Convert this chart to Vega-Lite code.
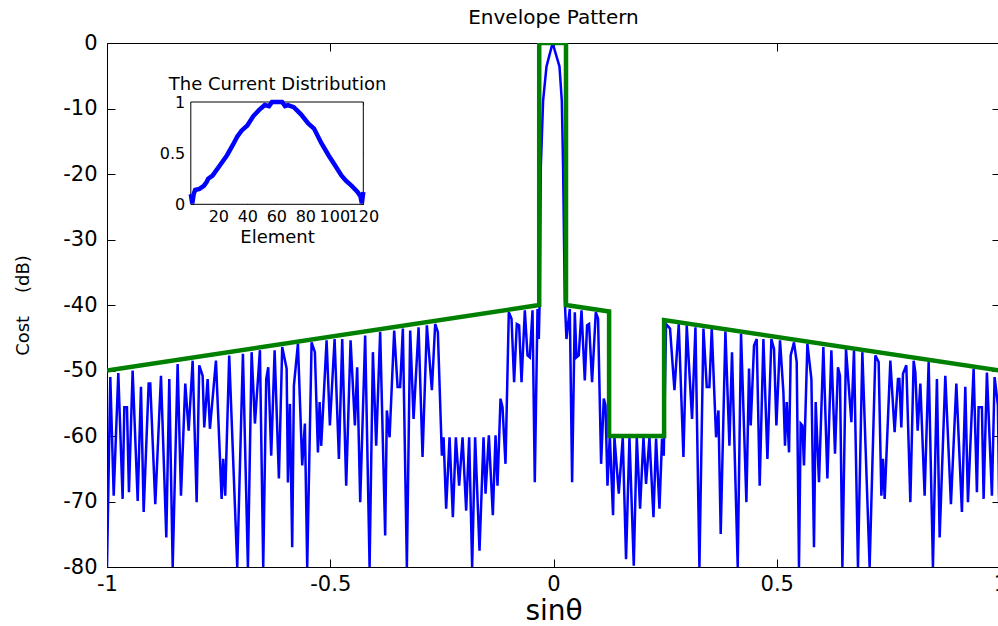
{
"$schema": "https://vega.github.io/schema/vega-lite/v6.json",
"width": 893, "height": 524,
"autosize": {"type": "none"},
"padding": {"left": 107, "top": 43, "right": 0, "bottom": 59},
"background": "white",
"title": {"text": "Envelope Pattern", "fontSize": 20, "font": "DejaVu Sans", "fontWeight": "normal", "color": "black", "offset": 4, "anchor": "middle"},
"config": {
  "view": {"stroke": "black", "strokeWidth": 1},
  "axis": {"grid": false, "domain": false, "tickColor": "black", "labelColor": "black", "titleColor": "black", "labelFont": "DejaVu Sans", "titleFont": "DejaVu Sans", "titleFontWeight": "normal", "labelOverlap": false, "labelFlush": false}
},
"datasets": {
"pattern": [
{"u":-1.0,"dB":-80},{"u":-0.9926,"dB":-51.0},{"u":-0.985,"dB":-69.1},{"u":-0.9747,"dB":-50.4},{"u":-0.965,"dB":-69.6},{"u":-0.9612,"dB":-55.6},{"u":-0.9553,"dB":-55.6},{"u":-0.9508,"dB":-68.6},{"u":-0.9426,"dB":-50.0},{"u":-0.9313,"dB":-69.9},{"u":-0.9239,"dB":-52.5},{"u":-0.9179,"dB":-71.6},{"u":-0.9067,"dB":-52.0},{"u":-0.9031,"dB":-52.0},{"u":-0.8919,"dB":-70.4},{"u":-0.8791,"dB":-50.8},{"u":-0.8672,"dB":-75.5},{"u":-0.8605,"dB":-51.3},{"u":-0.8529,"dB":-80},{"u":-0.8418,"dB":-49.0},{"u":-0.8343,"dB":-69.1},{"u":-0.8247,"dB":-52.0},{"u":-0.8171,"dB":-59.2},{"u":-0.8082,"dB":-48.5},{"u":-0.7992,"dB":-70.1},{"u":-0.7934,"dB":-49.2},{"u":-0.7858,"dB":-50.8},{"u":-0.7822,"dB":-58.7},{"u":-0.7746,"dB":-51.3},{"u":-0.7695,"dB":-58.9},{"u":-0.756,"dB":-48.5},{"u":-0.7433,"dB":-69.6},{"u":-0.7397,"dB":-63.5},{"u":-0.7352,"dB":-69.1},{"u":-0.7263,"dB":-47.7},
{"u":-0.7083,"dB":-80},{"u":-0.6956,"dB":-47.45},{"u":-0.6844,"dB":-80},{"u":-0.6761,"dB":-47.2},{"u":-0.6687,"dB":-58.1},{"u":-0.6575,"dB":-46.9},{"u":-0.6501,"dB":-80},{"u":-0.6434,"dB":-51.3},{"u":-0.6389,"dB":-49.5},{"u":-0.6322,"dB":-63.0},{"u":-0.6246,"dB":-46.9},{"u":-0.615,"dB":-66.5},{"u":-0.6076,"dB":-46.4},{"u":-0.5977,"dB":-49.7},{"u":-0.5948,"dB":-67.1},{"u":-0.5903,"dB":-55.1},{"u":-0.5852,"dB":-77.0},{"u":-0.5814,"dB":-52.3},{"u":-0.5724,"dB":-45.9},{"u":-0.5628,"dB":-64.5},{"u":-0.5568,"dB":-58.1},{"u":-0.5516,"dB":-80},{"u":-0.5418,"dB":-45.7},{"u":-0.5344,"dB":-47.2},{"u":-0.5276,"dB":-62.5},{"u":-0.5238,"dB":-54.8},{"u":-0.5203,"dB":-61.5},{"u":-0.5082,"dB":-45.4},{"u":-0.5008,"dB":-58.4},{"u":-0.4903,"dB":-45.2},{"u":-0.4806,"dB":-63.5},{"u":-0.4732,"dB":-45.2},{"u":-0.4643,"dB":-67.6},{"u":-0.4545,"dB":-45.4},{"u":-0.4448,"dB":-58.4},{"u":-0.4397,"dB":-49.5},
{"u":-0.4329,"dB":-70.1},{"u":-0.4218,"dB":-44.65},{"u":-0.4119,"dB":-80},{"u":-0.4045,"dB":-47.2},{"u":-0.3971,"dB":-61.5},{"u":-0.3882,"dB":-44.1},{"u":-0.377,"dB":-75.2},{"u":-0.3732,"dB":-56.1},{"u":-0.3671,"dB":-60.2},{"u":-0.3568,"dB":-43.9},{"u":-0.3492,"dB":-52.5},{"u":-0.3434,"dB":-52.5},{"u":-0.3374,"dB":-43.6},{"u":-0.3284,"dB":-80},{"u":-0.321,"dB":-43.9},{"u":-0.3134,"dB":-57.4},{"u":-0.3022,"dB":-43.4},{"u":-0.2933,"dB":-63.2},{"u":-0.2836,"dB":-43.1},{"u":-0.2724,"dB":-53.0},{"u":-0.265,"dB":-42.9},{"u":-0.259,"dB":-44.1},{"u":-0.25,"dB":-63.0},{"u":-0.2462,"dB":-60.2},{"u":-0.2404,"dB":-71.1},{"u":-0.2328,"dB":-60.2},{"u":-0.2254,"dB":-72.4},{"u":-0.2187,"dB":-60.2},{"u":-0.2113,"dB":-67.6},{"u":-0.2037,"dB":-60.2},{"u":-0.1956,"dB":-71.4},{"u":-0.1889,"dB":-60.2},{"u":-0.1822,"dB":-80},{"u":-0.1755,"dB":-60.2},{"u":-0.1657,"dB":-77.5},{"u":-0.1567,"dB":-60.2},
{"u":-0.1522,"dB":-68.8},{"u":-0.1448,"dB":-59.9},{"u":-0.1359,"dB":-72.1},{"u":-0.1298,"dB":-59.9},{"u":-0.1254,"dB":-67.6},{"u":-0.1187,"dB":-54.3},{"u":-0.1142,"dB":-55.6},{"u":-0.1075,"dB":-64.25},{"u":-0.1001,"dB":-41.1},{"u":-0.094,"dB":-42.1},{"u":-0.0882,"dB":-51.8},{"u":-0.0822,"dB":-42.9},{"u":-0.077,"dB":-43.1},{"u":-0.0716,"dB":-51.8},{"u":-0.0642,"dB":-40.8},{"u":-0.0582,"dB":-47.7},{"u":-0.0531,"dB":-48.0},{"u":-0.047,"dB":-40.8},{"u":-0.0419,"dB":-67.05},{"u":-0.0358,"dB":-40.6},{"u":-0.0329,"dB":-45.2},
{"u":-0.031,"dB":-39.3},{"u":-0.0284,"dB":-18.9},{"u":-0.0233,"dB":-8.8},{"u":-0.0157,"dB":-3.6},{"u":-0.002,"dB":0},{"u":0.0134,"dB":-3.6},{"u":0.0186,"dB":-8.8},{"u":0.0215,"dB":-18.9},{"u":0.0253,"dB":-39.3},
{"u":0.029,"dB":-45.2},{"u":0.0365,"dB":-40.6},{"u":0.0417,"dB":-67.05},{"u":0.0477,"dB":-41.1},{"u":0.0515,"dB":-48.0},{"u":0.0566,"dB":-47.7},{"u":0.0627,"dB":-40.8},{"u":0.0701,"dB":-51.5},{"u":0.0752,"dB":-43.1},{"u":0.0797,"dB":-42.9},{"u":0.0864,"dB":-51.8},{"u":0.0947,"dB":-41.1},{"u":0.0998,"dB":-42.1},{"u":0.1066,"dB":-64.25},{"u":0.1126,"dB":-54.3},{"u":0.1164,"dB":-55.3},{"u":0.1209,"dB":-67.6},{"u":0.1261,"dB":-59.9},{"u":0.1334,"dB":-72.1},
{"u":0.1365,"dB":-60.2},{"u":0.1462,"dB":-68.8},{"u":0.1551,"dB":-60.2},{"u":0.1625,"dB":-78.8},{"u":0.1701,"dB":-60.2},{"u":0.1798,"dB":-79.8},{"u":0.1865,"dB":-60.2},{"u":0.1939,"dB":-71.1},{"u":0.2015,"dB":-60.2},{"u":0.2073,"dB":-67.3},{"u":0.2149,"dB":-60.2},{"u":0.2239,"dB":-72.4},{"u":0.2297,"dB":-60.4},{"u":0.2373,"dB":-71.1},{"u":0.2431,"dB":-60.4},{"u":0.2469,"dB":-63.0},{"u":0.2521,"dB":-42.9},{"u":0.261,"dB":-43.6},{"u":0.2709,"dB":-53.0},{"u":0.2805,"dB":-42.9},{"u":0.291,"dB":-63.2},{"u":0.2984,"dB":-43.1},{"u":0.3103,"dB":-57.4},{"u":0.3179,"dB":-43.4},{"u":0.3268,"dB":-80},{"u":0.3358,"dB":-43.6},{"u":0.3432,"dB":-52.5},{"u":0.3492,"dB":-52.5},{"u":0.3544,"dB":-43.6},{"u":0.3641,"dB":-60.2},{"u":0.3694,"dB":-56.1},{"u":0.3745,"dB":-74.95},{"u":0.385,"dB":-44.0},{"u":0.394,"dB":-61.5},{"u":0.3998,"dB":-47.2},{"u":0.4126,"dB":-80},{"u":0.42,"dB":-44.4},
{"u":0.432,"dB":-70.1},{"u":0.4379,"dB":-49.7},{"u":0.4417,"dB":-58.4},{"u":0.4491,"dB":-46.2},{"u":0.4551,"dB":-45.2},{"u":0.4618,"dB":-67.6},{"u":0.4701,"dB":-45.2},{"u":0.4791,"dB":-63.5},{"u":0.488,"dB":-45.2},{"u":0.4939,"dB":-46.7},{"u":0.4992,"dB":-58.4},{"u":0.5073,"dB":-45.4},{"u":0.5149,"dB":-53.3},{"u":0.5185,"dB":-61.5},{"u":0.5223,"dB":-54.8},{"u":0.5275,"dB":-62.5},{"u":0.5312,"dB":-47.7},{"u":0.5386,"dB":-45.7},{"u":0.5447,"dB":-48.7},{"u":0.5498,"dB":-80},{"u":0.5536,"dB":-58.1},{"u":0.5574,"dB":-58.4},{"u":0.561,"dB":-64.5},{"u":0.5686,"dB":-45.9},{"u":0.5776,"dB":-51.3},{"u":0.5834,"dB":-77.0},{"u":0.5872,"dB":-54.8},{"u":0.5946,"dB":-67.05},{"u":0.6044,"dB":-46.4},{"u":0.6134,"dB":-66.5},{"u":0.6223,"dB":-46.9},{"u":0.6305,"dB":-62.7},{"u":0.6371,"dB":-49.5},{"u":0.6416,"dB":-50.8},{"u":0.647,"dB":-80},{"u":0.6551,"dB":-46.7},{"u":0.6671,"dB":-57.9},{"u":0.673,"dB":-46.9},{"u":0.6819,"dB":-80},{"u":0.6917,"dB":-47.2},{"u":0.708,"dB":-80},
{"u":0.7208,"dB":-47.7},{"u":0.7282,"dB":-48.7},{"u":0.7343,"dB":-69.1},{"u":0.7379,"dB":-63.5},{"u":0.7417,"dB":-69.6},{"u":0.7544,"dB":-48.5},{"u":0.764,"dB":-59.4},{"u":0.7715,"dB":-51.3},{"u":0.7746,"dB":-51.3},{"u":0.779,"dB":-58.7},{"u":0.7827,"dB":-50.5},{"u":0.7902,"dB":-49.2},{"u":0.7992,"dB":-70.1},{"u":0.8066,"dB":-48.5},{"u":0.8104,"dB":-50.3},{"u":0.8156,"dB":-59.2},{"u":0.8216,"dB":-52.0},{"u":0.8312,"dB":-69.1},{"u":0.8402,"dB":-48.7},{"u":0.8498,"dB":-80},{"u":0.8587,"dB":-51.3},{"u":0.8648,"dB":-75.5},{"u":0.8775,"dB":-50.8},{"u":0.8901,"dB":-70.4},{"u":0.9022,"dB":-52.0},{"u":0.9147,"dB":-71.6},{"u":0.9223,"dB":-52.5},{"u":0.9282,"dB":-70.1},{"u":0.9409,"dB":-49.7},{"u":0.9483,"dB":-68.6},{"u":0.9521,"dB":-55.6},{"u":0.9595,"dB":-55.6},{"u":0.9633,"dB":-69.6},{"u":0.9707,"dB":-50.3},{"u":0.9819,"dB":-69.1},{"u":0.9879,"dB":-51.0},{"u":0.9953,"dB":-55.3},{"u":1.0,"dB":-80}
],
"envelope": [
{"u":-1,"dB":-50},{"u":-0.032,"dB":-40},{"u":-0.032,"dB":0},{"u":0.028,"dB":0},{"u":0.028,"dB":-40},{"u":0.1245,"dB":-41.0},{"u":0.1245,"dB":-60},{"u":0.2477,"dB":-60},{"u":0.2477,"dB":-42.3},{"u":1,"dB":-50}
],
"current": [
{"element":1,"amp":0.1},{"element":2,"amp":0.01},{"element":3,"amp":0.1},{"element":4,"amp":0.14},{"element":7,"amp":0.15},{"element":10,"amp":0.18},{"element":12,"amp":0.22},{"element":13,"amp":0.25},{"element":16,"amp":0.28},{"element":21,"amp":0.38},{"element":26,"amp":0.48},{"element":30,"amp":0.58},{"element":33,"amp":0.66},{"element":36,"amp":0.72},{"element":40,"amp":0.77},{"element":44,"amp":0.86},{"element":48,"amp":0.92},{"element":52,"amp":0.97},{"element":55,"amp":0.96},{"element":57,"amp":1.0},{"element":61,"amp":1.0},{"element":64,"amp":1.0},{"element":66,"amp":0.96},{"element":68,"amp":0.97},{"element":72,"amp":0.95},{"element":77,"amp":0.88},{"element":82,"amp":0.79},{"element":86,"amp":0.74},{"element":91,"amp":0.6},{"element":96,"amp":0.48},{"element":101,"amp":0.37},{"element":105,"amp":0.28},{"element":108,"amp":0.23},{"element":112,"amp":0.18},{"element":116,"amp":0.12},{"element":118,"amp":0.08},{"element":119,"amp":0.01},{"element":120,"amp":0.12}
]
},
"resolve": {"scale": {"x": "independent", "y": "independent"}, "axis": {"x": "independent", "y": "independent"}},
"layer": [
{
  "data": {"name": "pattern"},
  "mark": {"type": "line", "color": "#0000ff", "strokeWidth": 2.5, "clip": true},
  "encoding": {
    "x": {"field": "u", "type": "quantitative", "scale": {"domain": [-1, 1], "nice": false, "zero": false},
          "axis": {"orient": "bottom", "values": [-1, -0.5, 0, 0.5, 1], "labelExpr": "'' + datum.value", "tickSize": -8, "labelPadding": 14, "labelFontSize": 21, "title": "sinθ", "titleFontSize": 28, "titlePadding": 3}},
    "y": {"field": "dB", "type": "quantitative", "scale": {"domain": [-80, 0], "nice": false, "zero": false},
          "axis": {"orient": "left", "values": [0, -10, -20, -30, -40, -50, -60, -70, -80], "labelExpr": "'' + datum.value", "tickSize": -8, "labelPadding": 18, "labelFontSize": 21, "title": "Cost\u00a0\u00a0\u00a0\u00a0(dB)", "titleFontSize": 18, "titlePadding": 30}},
    "order": {"value": null}
  }
},
{
  "data": {"name": "envelope"},
  "mark": {"type": "line", "color": "#008000", "strokeWidth": 4.5, "clip": true},
  "encoding": {
    "x": {"field": "u", "type": "quantitative", "scale": {"domain": [-1, 1], "nice": false, "zero": false},
          "axis": {"orient": "top", "values": [-1, -0.5, 0, 0.5, 1], "labels": false, "tickSize": -8, "title": null}},
    "y": {"field": "dB", "type": "quantitative", "scale": {"domain": [-80, 0], "nice": false, "zero": false},
          "axis": {"orient": "right", "values": [0, -10, -20, -30, -40, -50, -60, -70, -80], "labels": false, "tickSize": -8, "title": null}},
    "order": {"value": null}
  }
},
{
  "data": {"values": [{}]},
  "mark": {"type": "rect", "fill": "white", "stroke": "black", "strokeWidth": 1},
  "encoding": {
    "x": {"datum": 1, "type": "quantitative", "scale": {"domain": [1, 120], "range": [83.8, 256.3], "nice": false, "zero": false},
          "axis": {"orient": "top", "offset": -59, "values": [20, 40, 60, 80, 100, 120], "labels": false, "tickSize": -3, "title": "The Current Distribution", "titleFontSize": 18, "titlePadding": 8}},
    "x2": {"datum": 120},
    "y": {"datum": 0, "type": "quantitative", "scale": {"domain": [0, 1], "range": [161.3, 59], "nice": false, "zero": false},
          "axis": {"orient": "right", "offset": -636.7, "values": [0, 0.5, 1], "labels": false, "tickSize": -3, "title": null}},
    "y2": {"datum": 1}
  }
},
{
  "data": {"name": "current"},
  "mark": {"type": "line", "color": "#0000ff", "strokeWidth": 4.5},
  "encoding": {
    "x": {"field": "element", "type": "quantitative", "scale": {"domain": [1, 120], "range": [83.8, 256.3], "nice": false, "zero": false},
          "axis": {"orient": "bottom", "offset": -362.7, "values": [20, 40, 60, 80, 100, 120], "tickSize": -3, "labelPadding": 7, "labelFontSize": 16, "title": "Element", "titleFontSize": 18, "titlePadding": 4}},
    "y": {"field": "amp", "type": "quantitative", "scale": {"domain": [0, 1], "range": [161.3, 59], "nice": false, "zero": false},
          "axis": {"orient": "left", "offset": -83.8, "values": [0, 0.5, 1], "labelExpr": "'' + datum.value", "tickSize": -3, "labelPadding": 9, "labelFontSize": 16, "title": null}}
  }
}
]
}
